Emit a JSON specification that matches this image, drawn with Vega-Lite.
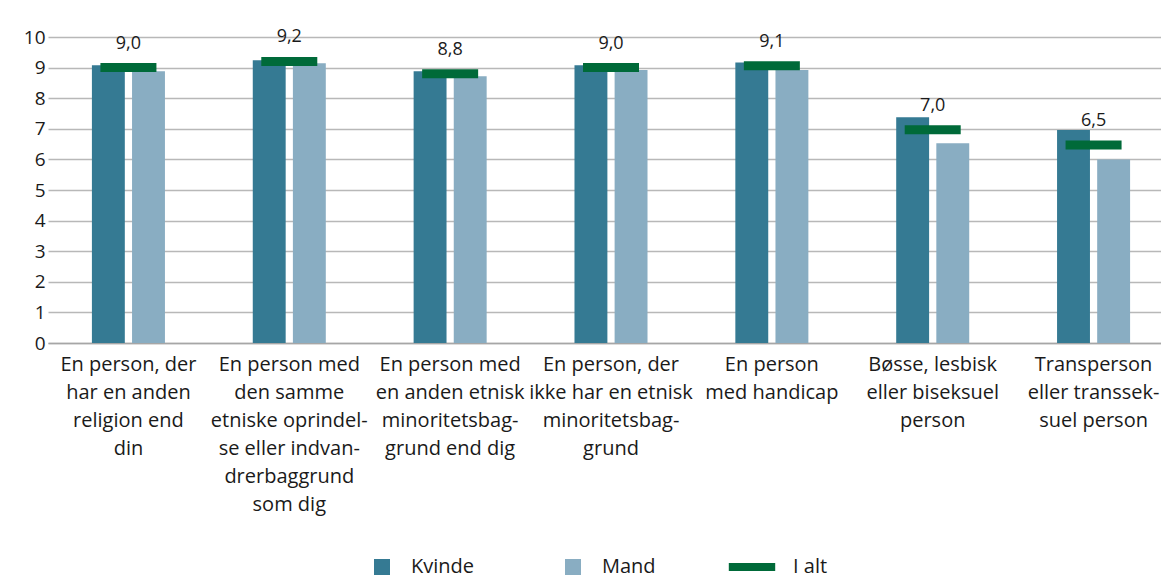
{
  "$schema": "https://vega.github.io/schema/vega-lite/v6.json",
  "width": 1126,
  "height": 306,
  "autosize": {"type": "none"},
  "padding": {"left": 48, "top": 37, "right": 0, "bottom": 236},
  "background": "white",
  "config": {
    "font": "Open Sans",
    "locale": {"number": {"decimal": ",", "thousands": ".", "grouping": [3], "currency": ["", " kr."]}},
    "view": {"stroke": null},
    "axis": {"labelColor": "#1a1a1a", "titleColor": "#1a1a1a"}
  },
  "datasets": {
    "bars": [
      {"kategori": "En person, der|har en anden|religion end|din", "serie": "Kvinde", "værdi": 9.08},
      {"kategori": "En person, der|har en anden|religion end|din", "serie": "Mand", "værdi": 8.88},
      {"kategori": "En person med|den samme|etniske oprindel-|se eller indvan-|drerbaggrund|som dig", "serie": "Kvinde", "værdi": 9.24},
      {"kategori": "En person med|den samme|etniske oprindel-|se eller indvan-|drerbaggrund|som dig", "serie": "Mand", "værdi": 9.14},
      {"kategori": "En person med|en anden etnisk|minoritetsbag-|grund end dig", "serie": "Kvinde", "værdi": 8.88},
      {"kategori": "En person med|en anden etnisk|minoritetsbag-|grund end dig", "serie": "Mand", "værdi": 8.72},
      {"kategori": "En person, der|ikke har en etnisk|minoritetsbag-|grund", "serie": "Kvinde", "værdi": 9.08},
      {"kategori": "En person, der|ikke har en etnisk|minoritetsbag-|grund", "serie": "Mand", "værdi": 8.92},
      {"kategori": "En person|med handicap", "serie": "Kvinde", "værdi": 9.17},
      {"kategori": "En person|med handicap", "serie": "Mand", "værdi": 8.92},
      {"kategori": "Bøsse, lesbisk|eller biseksuel|person", "serie": "Kvinde", "værdi": 7.38},
      {"kategori": "Bøsse, lesbisk|eller biseksuel|person", "serie": "Mand", "værdi": 6.53},
      {"kategori": "Transperson|eller transsek-|suel person", "serie": "Kvinde", "værdi": 6.96},
      {"kategori": "Transperson|eller transsek-|suel person", "serie": "Mand", "værdi": 6.0}
    ],
    "total": [
      {"kategori": "En person, der|har en anden|religion end|din", "serie": "I alt", "værdi": 9.0},
      {"kategori": "En person med|den samme|etniske oprindel-|se eller indvan-|drerbaggrund|som dig", "serie": "I alt", "værdi": 9.2},
      {"kategori": "En person med|en anden etnisk|minoritetsbag-|grund end dig", "serie": "I alt", "værdi": 8.8},
      {"kategori": "En person, der|ikke har en etnisk|minoritetsbag-|grund", "serie": "I alt", "værdi": 9.0},
      {"kategori": "En person|med handicap", "serie": "I alt", "værdi": 9.06},
      {"kategori": "Bøsse, lesbisk|eller biseksuel|person", "serie": "I alt", "værdi": 6.97},
      {"kategori": "Transperson|eller transsek-|suel person", "serie": "I alt", "værdi": 6.47}
    ]
  },
  "encoding": {
    "x": {
      "field": "kategori",
      "type": "nominal",
      "sort": null,
      "scale": {
        "domain": [
          "En person, der|har en anden|religion end|din",
          "En person med|den samme|etniske oprindel-|se eller indvan-|drerbaggrund|som dig",
          "En person med|en anden etnisk|minoritetsbag-|grund end dig",
          "En person, der|ikke har en etnisk|minoritetsbag-|grund",
          "En person|med handicap",
          "Bøsse, lesbisk|eller biseksuel|person",
          "Transperson|eller transsek-|suel person"
        ],
        "paddingInner": 0.546,
        "paddingOuter": 0.273
      },
      "axis": {
        "title": null,
        "labelAngle": 0,
        "labelExpr": "split(datum.value, '|')",
        "labelFontSize": 20,
        "labelLineHeight": 28,
        "labelBaseline": "top",
        "labelPadding": 11,
        "labelLimit": 0,
        "ticks": false,
        "domain": true,
        "domainColor": "#a6a6a6",
        "domainWidth": 1.5,
        "grid": false
      }
    },
    "y": {
      "field": "værdi",
      "type": "quantitative",
      "scale": {"domain": [0, 10], "nice": false},
      "axis": {
        "title": null,
        "values": [0, 1, 2, 3, 4, 5, 6, 7, 8, 9, 10],
        "labelFontSize": 19,
        "labelPadding": 3,
        "ticks": false,
        "domain": false,
        "grid": true,
        "gridColor": "#b8b8b8",
        "gridWidth": 1.5
      }
    },
    "color": {
      "field": "serie",
      "type": "nominal",
      "scale": {"domain": ["Kvinde", "Mand", "I alt"], "range": ["#357A93", "#89ADC2", "#006A39"]},
      "legend": {
        "title": null,
        "orient": "none",
        "legendX": 324,
        "legendY": 520,
        "direction": "horizontal",
        "columns": 3,
        "gridAlign": "all",
        "columnPadding": 62,
        "symbolType": "square",
        "symbolSize": 256,
        "symbolStrokeWidth": 0,
        "symbolOpacity": 1,
        "labelFontSize": 20,
        "labelOffset": 19,
        "labelColor": "#1a1a1a",
        "encode": {
          "symbols": {
            "update": {
              "shape": {"signal": "datum.value === 'I alt' ? 'M-4.4,-0.5H1.4V0.5H-4.4Z' : 'square'"}
            }
          }
        }
      }
    }
  },
  "layer": [
    {
      "data": {"name": "bars"},
      "mark": {"type": "bar"},
      "encoding": {
        "xOffset": {"field": "serie", "type": "nominal", "sort": ["Kvinde", "Mand"], "scale": {"paddingInner": 0.18, "paddingOuter": 0}}
      }
    },
    {
      "data": {"name": "total"},
      "mark": {"type": "tick", "size": 56, "thickness": 9, "opacity": 1}
    },
    {
      "data": {"name": "total"},
      "mark": {"type": "text", "dy": -24, "fontSize": 18, "color": "#1a1a1a"},
      "encoding": {
        "text": {"field": "værdi", "type": "quantitative", "format": ".1f"},
        "color": {"value": "#1a1a1a"}
      }
    }
  ]
}
